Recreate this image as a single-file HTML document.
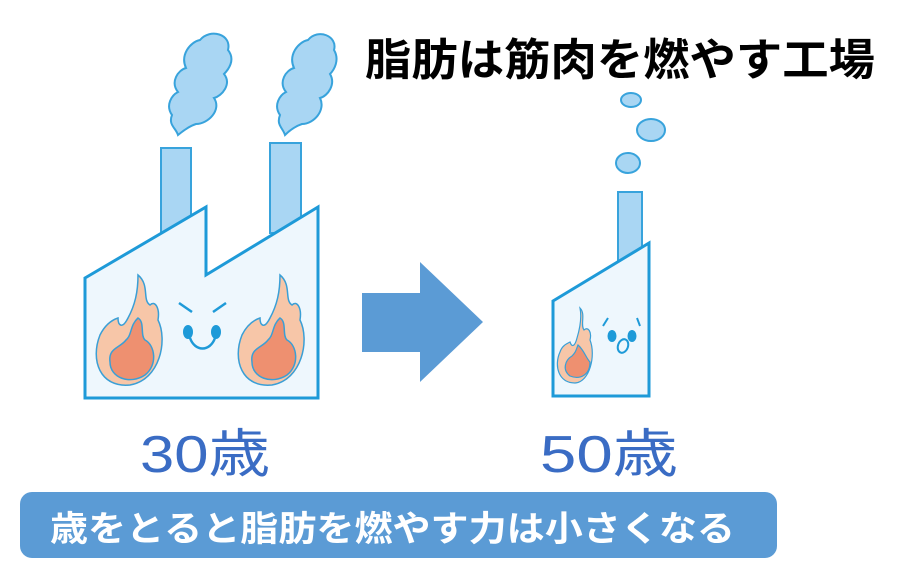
<!DOCTYPE html>
<html><head><meta charset="utf-8"><style>
html,body{margin:0;padding:0;background:#fff;}
svg{display:block}
text{font-family:"Liberation Sans","Noto Sans CJK JP",sans-serif;font-weight:bold}
</style></head><body>
<svg width="905" height="578" viewBox="0 0 905 578" xmlns="http://www.w3.org/2000/svg">
<!-- smoke big -->
<g fill="#a9d6f3" stroke="#38a3dc" stroke-width="2">
<path d="M178,135 C176,128 168,125 172,115 C165,105 172,95 178,92 C170,82 178,70 186,68 C180,55 190,42 200,40 C210,28 232,34 228,50 C236,60 228,70 224,74 C232,84 222,96 214,98 C222,110 208,124 196,124 C190,126 184,130 178,135 Z"/>
<path d="M285,135 C283,128 276,125 280,115 C273,105 280,95 286,92 C278,82 286,70 294,68 C288,55 298,42 308,40 C318,28 338,36 334,50 C340,60 334,70 330,74 C336,84 328,96 320,98 C326,110 314,124 302,124 C296,126 290,130 285,135 Z"/>
<rect x="161" y="148" width="30" height="90"/>
<rect x="270" y="143" width="31" height="90"/>
<ellipse cx="631" cy="100" rx="10" ry="7"/>
<ellipse cx="651" cy="130" rx="14" ry="11"/>
<ellipse cx="628" cy="163" rx="12" ry="10"/>
<rect x="618" y="192" width="24" height="70"/>
</g>
<!-- big factory -->
<path d="M85,278 L206,207 L206,275 L318,207 L318,398 L85,398 Z" fill="#eef7fd" stroke="#1e9ad8" stroke-width="3"/>
<!-- flames -->
<g stroke="#3a9fd6" stroke-width="1.5">
<path d="M138,275 C150,285 142,300 150,305 C155,300 160,308 158,320 C168,340 160,380 130,385 C100,388 90,360 100,335 C105,325 112,320 118,318 C118,325 122,330 128,318 C135,305 138,292 138,275 Z" fill="#f7c6a8"/>
<path d="M138,318 C145,322 140,335 145,340 C155,345 158,365 145,375 C130,385 110,378 110,362 C108,348 120,348 126,340 C132,335 130,325 138,318 Z" fill="#ee9070"/>
<path d="M280,275 C292,285 284,300 292,305 C297,300 302,308 300,320 C310,340 302,380 272,385 C242,388 232,360 242,335 C247,325 254,320 260,318 C260,325 264,330 270,318 C277,305 280,292 280,275 Z" fill="#f7c6a8"/>
<path d="M280,318 C287,322 282,335 287,340 C297,345 300,365 287,375 C272,385 252,378 252,362 C250,348 262,348 268,340 C274,335 272,325 280,318 Z" fill="#ee9070"/>
</g>
<!-- face big -->
<g stroke="#1e9ad8" stroke-width="2.5" fill="none">
<path d="M179,303 L192,312"/><path d="M226,303 L213,312"/>
<path d="M190,338 C195,352 210,352 215,338"/>
</g>
<ellipse cx="188" cy="332" rx="5" ry="7" fill="#1e9ad8"/>
<ellipse cx="216" cy="332" rx="5" ry="7" fill="#1e9ad8"/>
<!-- small factory -->
<path d="M553,301 L649,243 L649,396 L553,396 Z" fill="#eef7fd" stroke="#1e9ad8" stroke-width="3"/>
<g stroke="#3a9fd6" stroke-width="1.2">
<path d="M580,308 C586,314 580,325 584,330 C588,326 592,332 590,340 C596,355 590,382 575,383 C558,383 554,365 560,352 C562,346 566,344 570,342 C572,348 575,346 577,338 C580,328 582,318 580,308 Z" fill="#f7c6a8"/>
<path d="M578,345 C584,350 586,358 590,362 C590,375 580,380 570,376 C562,370 565,360 572,356 C576,352 576,350 578,345 Z" fill="#ee9070"/>
</g>
<g stroke="#1e9ad8" stroke-width="2" fill="none">
<path d="M608,318 L603,326"/><path d="M637,318 L640,326"/>
<ellipse cx="623" cy="346" rx="5" ry="7" transform="rotate(20 623 346)"/>
</g>
<ellipse cx="612" cy="336" rx="4.5" ry="6" fill="#1e9ad8"/>
<ellipse cx="632" cy="336" rx="4.5" ry="6" fill="#1e9ad8"/>
<!-- arrow -->
<path d="M362,293 L420,293 L420,262 L483,322 L420,382 L420,352 L362,352 Z" fill="#5b9bd5"/>
<!-- title -->
<text x="365" y="75" font-size="44" fill="#000" textLength="510" lengthAdjust="spacingAndGlyphs">脂肪は筋肉を燃やす工場</text>
<text x="140" y="472" font-size="52" fill="#3a6cc4" font-weight="normal" style="font-weight:normal" textLength="130" lengthAdjust="spacingAndGlyphs">30歳</text>
<text x="540" y="472" font-size="52" fill="#3a6cc4" style="font-weight:normal" textLength="138" lengthAdjust="spacingAndGlyphs">50歳</text>
<rect x="20" y="492" width="757" height="66" rx="12" fill="#5b9bd5"/>
<text x="50" y="541" font-size="35" fill="#fff" textLength="685" lengthAdjust="spacingAndGlyphs">歳をとると脂肪を燃やす力は小さくなる</text>
</svg>
</body></html>
